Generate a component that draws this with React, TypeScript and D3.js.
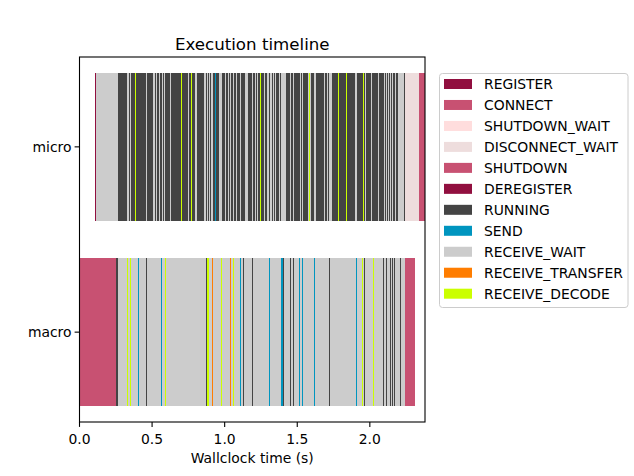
import React from "react";
import * as d3 from "d3";

// ---- data ----
const stateNames = [
  "REGISTER", "CONNECT", "SHUTDOWN_WAIT", "DISCONNECT_WAIT", "SHUTDOWN",
  "DEREGISTER", "RUNNING", "SEND", "RECEIVE_WAIT", "RECEIVE_TRANSFER", "RECEIVE_DECODE",
];
const stateColors = [
  "#910f3f", "#c85172", "#ffdddd", "#eedddd", "#c85172",
  "#910f3f", "#444444", "#0095bf", "#cccccc", "#ff7d00", "#cbff00",
];
const rowNames = ["macro", "micro"];
const xTicks = [0, 0.5, 1.0, 1.5, 2.0];

// micro instance (row 1), [start, end] in seconds
const microRegister = [[0.107, 0.113]];
const microWaitBlock = [[0.113, 0.265]];
const microRunning = [[0.265, 2.245]];
const microWait = [
  [0.330, 0.339], [0.348, 0.355], [0.461, 0.468], [0.507, 0.519], [0.530, 0.535],
  [0.548, 0.555], [0.567, 0.572], [0.585, 0.592], [0.622, 0.627], [0.748, 0.755],
  [0.794, 0.801], [0.803, 0.810], [0.861, 0.868], [0.877, 0.884], [0.891, 0.900],
  [0.909, 0.923], [0.964, 0.981], [1.003, 1.010], [1.022, 1.029], [1.038, 1.045],
  [1.057, 1.063], [1.077, 1.084], [1.107, 1.114], [1.141, 1.160], [1.188, 1.194],
  [1.206, 1.212], [1.222, 1.229], [1.272, 1.279], [1.295, 1.302], [1.314, 1.323],
  [1.332, 1.339], [1.350, 1.357], [1.371, 1.378], [1.390, 1.424], [1.452, 1.459],
  [1.468, 1.474], [1.521, 1.528], [1.534, 1.541], [1.571, 1.578], [1.590, 1.596],
  [1.612, 1.626], [1.681, 1.691], [1.705, 1.714], [1.719, 1.741], [1.900, 1.912],
  [1.969, 1.976], [2.010, 2.017], [2.054, 2.061], [2.095, 2.102], [2.112, 2.119],
  [2.126, 2.132], [2.139, 2.146], [2.155, 2.162], [2.171, 2.178], [2.192, 2.238],
];
const microDecode = [
  [0.383, 0.390], [0.700, 0.707], [0.769, 0.776], [1.243, 1.250], [1.580, 1.587],
  [1.781, 1.788], [1.836, 1.843], [1.953, 1.960],
];
const microSend = [[0.934, 0.941]];
const microDisconnectWait = [[2.245, 2.341]];
const microShutdown = [[2.341, 2.383]];

// macro instance (row 0)
const macroConnect = [[0.0, 0.250]];
const macroRunningBlock = [[0.250, 0.266]];
const macroWait = [[0.266, 2.243]];
const macroRunning = [
  [0.459, 0.466], [0.870, 0.877], [1.126, 1.132], [1.188, 1.194], [1.403, 1.410],
  [1.450, 1.457], [1.470, 1.477], [1.721, 1.728], [1.960, 1.967], [2.093, 2.100],
  [2.114, 2.121], [2.137, 2.143], [2.153, 2.160], [2.169, 2.176], [2.210, 2.217],
];
const macroDecode = [
  [0.328, 0.334], [0.346, 0.353], [0.590, 0.597], [0.881, 0.891], [0.976, 0.983],
  [1.057, 1.063], [1.946, 1.955], [2.024, 2.031],
];
const macroTransfer = [[0.912, 0.921], [1.038, 1.047]];
const macroSend = [
  [0.403, 0.410], [0.562, 0.569], [1.107, 1.114], [1.305, 1.312], [1.388, 1.403],
  [1.512, 1.519], [1.532, 1.539], [1.615, 1.622], [1.907, 1.914],
];
const macroShutdown = [[2.243, 2.314]];

// draw order: [row, state, spans]
const layers: [number, string, number[][]][] = [
  [1, "RECEIVE_WAIT", microWaitBlock],
  [1, "RUNNING", microRunning],
  [1, "REGISTER", microRegister],
  [1, "RECEIVE_WAIT", microWait],
  [1, "RECEIVE_DECODE", microDecode],
  [1, "SEND", microSend],
  [1, "DISCONNECT_WAIT", microDisconnectWait],
  [1, "SHUTDOWN", microShutdown],
  [0, "CONNECT", macroConnect],
  [0, "RUNNING", macroRunningBlock],
  [0, "RECEIVE_WAIT", macroWait],
  [0, "RUNNING", macroRunning],
  [0, "RECEIVE_DECODE", macroDecode],
  [0, "RECEIVE_TRANSFER", macroTransfer],
  [0, "SEND", macroSend],
  [0, "SHUTDOWN", macroShutdown],
];

const W = 634, H = 476;
const L = 79.5, R = 425, T = 57, B = 422;
const FONT = "DejaVu Sans, sans-serif";

export default function App() {
  const x = d3.scaleLinear().domain([0, 2.38]).range([L, R]);
  const y = d3.scaleLinear().domain([-0.485, 1.485]).range([B, T]);
  const color = d3.scaleOrdinal<string, string>().domain(stateNames).range(stateColors);
  const barH = y(0) - y(0.8);

  const rects: JSX.Element[] = [];
  layers.forEach(([row, state, spans], li) => {
    spans.forEach(([s, e], i) => {
      const x0 = x(s);
      const w = Math.max(x(e) - x0, 1);
      rects.push(
        <rect key={`${li}-${i}`} x={x0} y={y(row + 0.4)} width={w} height={barH}
          fill={color(state)} shapeRendering="crispEdges" />
      );
    });
  });

  const legX = 439.5, legY = 73.5, legW = 188.5, legH = 234;
  const rowStep = 20.97;

  return (
    <svg width={W} height={H} style={{ position: "absolute", left: 0, top: 0, background: "#fff" }}
      fontFamily={FONT}>
      <rect x={0} y={0} width={W} height={H} fill="#fff" />
      <defs>
        <clipPath id="plot"><rect x={L} y={T} width={R - L} height={B - T} /></clipPath>
      </defs>
      <g clipPath="url(#plot)">{rects}</g>
      <rect x={L} y={T} width={R - L} height={B - T} fill="none" stroke="#000" strokeWidth={1.1} />
      {xTicks.map((t) => (
        <g key={t}>
          <line x1={x(t)} x2={x(t)} y1={B} y2={B + 4.9} stroke="#000" strokeWidth={1.1} />
          <text x={x(t)} y={B + 22} fontSize={13.9} textAnchor="middle" fill="#000">{t.toFixed(1)}</text>
        </g>
      ))}
      {rowNames.map((n, i) => (
        <g key={n}>
          <line x1={L - 4.9} x2={L} y1={y(i)} y2={y(i)} stroke="#000" strokeWidth={1.1} />
          <text x={L - 8} y={y(i)} dy="0.35em" fontSize={13.9} textAnchor="end" fill="#000">{n}</text>
        </g>
      ))}
      <text x={(L + R) / 2} y={463} fontSize={13.9} textAnchor="middle" fill="#000">Wallclock time (s)</text>
      <text x={(L + R) / 2} y={49.5} fontSize={16.67} textAnchor="middle" fill="#000">Execution timeline</text>
      <rect x={legX} y={legY} width={legW} height={legH} rx={3} ry={3}
        fill="#fff" fillOpacity={0.8} stroke="#cccccc" strokeWidth={1} />
      {stateNames.map((s, i) => {
        const cy = 84 + i * rowStep;
        return (
          <g key={s}>
            <rect x={444} y={cy - 5} width={28} height={10} fill={stateColors[i]} />
            <text x={484} y={cy} dy="0.35em" fontSize={13.9} fill="#000">{s}</text>
          </g>
        );
      })}
    </svg>
  );
}
